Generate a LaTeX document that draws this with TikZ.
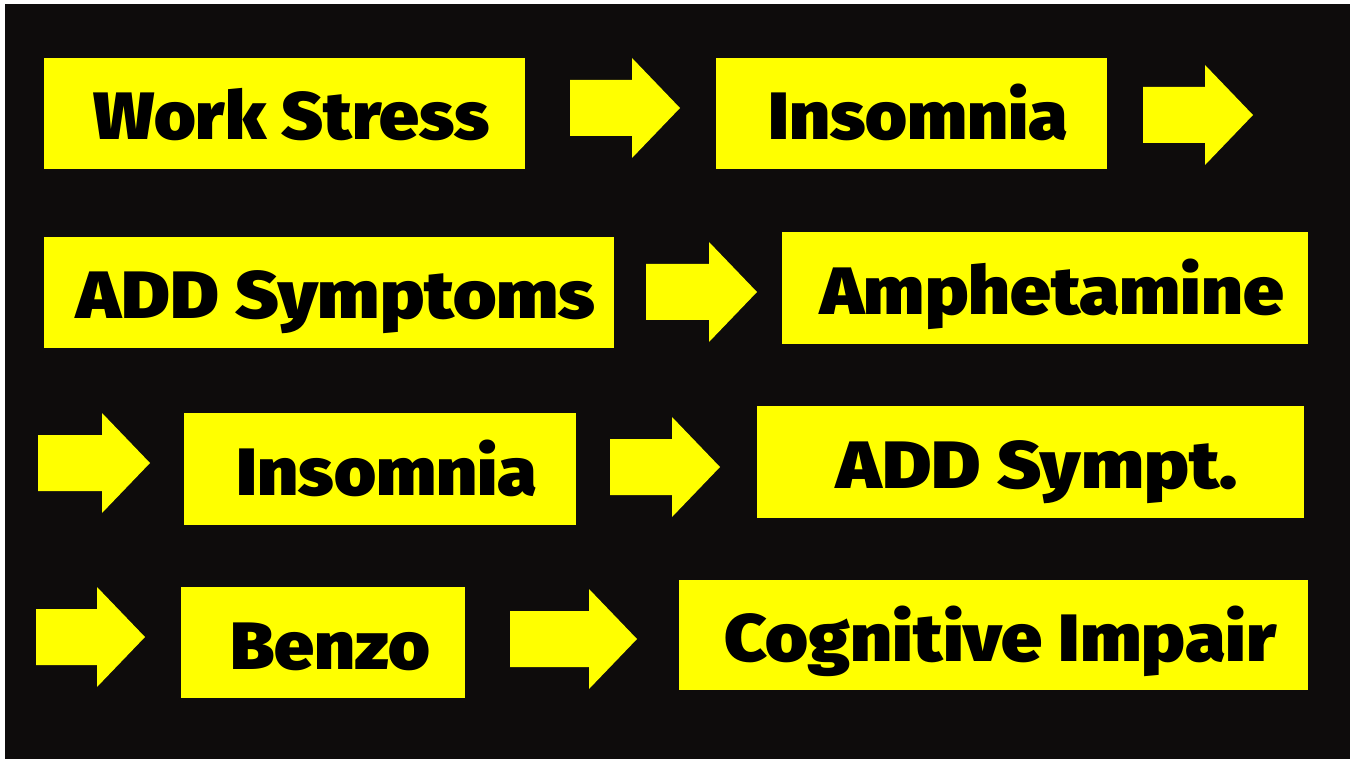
\documentclass[tikz,border=0pt]{standalone}
\usepackage{fontspec}
\usepackage{graphicx}
\newfontfamily\heavy{Fira Sans Black}
\definecolor{bg}{HTML}{0E0C0C}
\definecolor{yel}{HTML}{FFFF00}
\newcommand{\fitw}[2]{\hspace*{14pt}\resizebox{#1}{\height}{#2}}
\tikzset{
  box/.style={fill=yel, draw=none, minimum height=111pt, inner sep=0pt,
    text height=53pt, text depth=0pt, font=\heavy\fontsize{67}{67}\selectfont, text=black},
  pics/barrow/.style={code={
    \fill[yel] (0,-28)--(#1-48,-28)--(#1-48,-50)--(#1,0)--(#1-48,50)--(#1-48,28)--(0,28)--cycle;}}
}
\begin{document}
\begin{tikzpicture}[x=1pt,y=-1pt]
\useasboundingbox (0,0) rectangle (1352,759);
\fill[white] (0,0) rectangle (1352,759);
\fill[bg] (5,4) rectangle (1350,759);
% row 1
\node[box, minimum width=481pt] (b1) at (284.5,113.5) {\fitw{396pt}{Work Stress}};
\pic (a1) at (570,108) {barrow=110};
\node[box, minimum width=391pt] (b2) at (911.5,113.5) {\fitw{300pt}{Insomnia}};
\pic (a2) at (1143,115) {barrow=110};
% row 2
\node[box, minimum width=570pt] (b3) at (329,292.5) {\fitw{519pt}{ADD Symptoms}};
\pic (a3) at (646,292) {barrow=111};
\node[box, minimum width=526pt, minimum height=112pt] (b4) at (1045,288) {\fitw{464pt}{Amphetamine}};
% row 3
\pic (a4) at (38,463) {barrow=112};
\node[box, minimum width=392pt, minimum height=112pt] (b5) at (380,469) {\fitw{301pt}{Insomnia}};
\pic (a5) at (610,467) {barrow=110};
\node[box, minimum width=547pt, minimum height=112pt] (b6) at (1030.5,462) {\fitw{401pt}{ADD Sympt.}};
% row 4
\pic (a6) at (36,637) {barrow=109};
\node[box, minimum width=284pt] (b7) at (323,642.5) {\fitw{200pt}{Benzo}};
\pic (a7) at (510,639) {barrow=127};
\node[box, minimum width=629pt, minimum height=110pt] (b8) at (993.5,635) {\fitw{552pt}{Cognitive Impair}};
\end{tikzpicture}
\end{document}
